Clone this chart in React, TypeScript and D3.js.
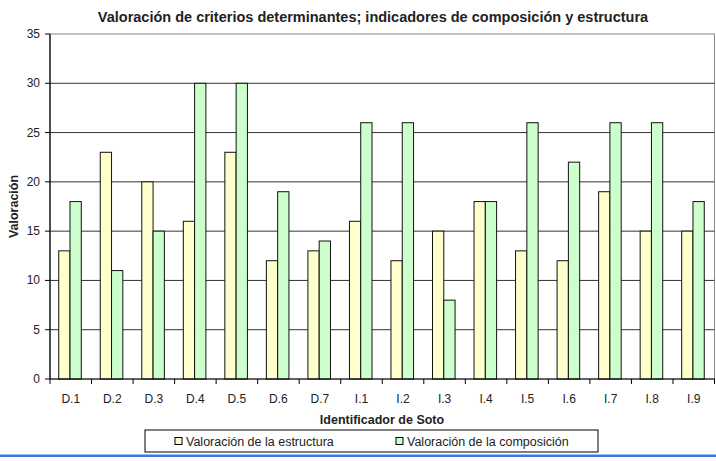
import React from "react";
import * as d3 from "d3";

const categories = ["D.1","D.2","D.3","D.4","D.5","D.6","D.7","I.1","I.2","I.3","I.4","I.5","I.6","I.7","I.8","I.9"];
const estructura = [13,23,20,16,23,12,13,16,12,15,18,13,12,19,15,15];
const composicion = [18,11,15,30,30,19,14,26,26,8,18,26,22,26,26,18];
const seriesNames = ["Valoración de la estructura", "Valoración de la composición"];
const seriesColors = ["#FFFFCC", "#CCFFCC"];
const yTicks = [0,5,10,15,20,25,30,35];

export default function App() {
  const W = 716, H = 461;
  const left = 50, right = 714.5, top = 34, bottom = 379;
  const x = d3.scaleBand<string>().domain(categories).range([left, right]).paddingInner(0).paddingOuter(0);
  const inner = d3.scaleBand<number>().domain([0,1]).range([0, x.bandwidth()]).paddingInner(0).paddingOuter(0.84).align(0.46);
  const y = d3.scaleLinear().domain([0,35]).range([bottom, top]);
  const font = "Arial, 'Liberation Sans', sans-serif";
  const series = [estructura, composicion];
  return (
    <svg width={W} height={H} style={{position:"absolute", left:0, top:0}} fontFamily={font}>
      <rect x={0} y={0} width={W} height={H} fill="#fff" />
      <text x={373} y={22} textAnchor="middle" fontSize={14.5} fontWeight="bold" fill="#222">
        Valoración de criterios determinantes; indicadores de composición y estructura
      </text>
      <rect x={left} y={top} width={right-left} height={bottom-top} fill="none" stroke="#888" strokeWidth={1} />
      {yTicks.filter(t => t>0 && t<35).map(t => (
        <line key={t} x1={left} x2={right} y1={y(t)} y2={y(t)} stroke="#333" strokeWidth={1} />
      ))}
      {categories.map((c, i) => series.map((s, k) => (
        <rect key={c+k} x={x(c)! + inner(k)!} y={y(s[i])} width={inner.bandwidth()} height={y(0)-y(s[i])}
          fill={seriesColors[k]} stroke="#111" strokeWidth={1} />
      )))}
      <line x1={left} x2={left} y1={top} y2={bottom} stroke="#000" strokeWidth={1.2} />
      <line x1={left} x2={right} y1={bottom} y2={bottom} stroke="#000" strokeWidth={1.2} />
      {yTicks.map(t => (
        <g key={t}>
          <line x1={left-5} x2={left} y1={y(t)} y2={y(t)} stroke="#000" />
          <text x={40} y={y(t)+4} textAnchor="end" fontSize={12} fill="#222">{t}</text>
        </g>
      ))}
      {categories.map((c) => (
        <g key={c}>
          <line x1={x(c)!} x2={x(c)!} y1={bottom} y2={bottom+5} stroke="#000" />
          <text x={x(c)! + x.bandwidth()/2} y={403} textAnchor="middle" fontSize={12} fill="#222">{c}</text>
        </g>
      ))}
      <line x1={right} x2={right} y1={bottom} y2={bottom+5} stroke="#000" />
      <text x={382} y={424} textAnchor="middle" fontSize={12.5} fontWeight="bold" fill="#222">Identificador de Soto</text>
      <text transform={`translate(18,${(top+bottom)/2}) rotate(-90)`} textAnchor="middle" fontSize={12.5} fontWeight="bold" fill="#222">Valoración</text>
      <rect x={145} y={430} width={453} height={22} fill="#fff" stroke="#000" strokeWidth={1} />
      {seriesNames.map((n, k) => {
        const lx = k === 0 ? 175 : 396;
        return (
          <g key={n}>
            <rect x={lx} y={437.5} width={7} height={7} fill={seriesColors[k]} stroke="#000" strokeWidth={1} />
            <text x={lx+11} y={445.5} fontSize={12.5} fill="#222">{n}</text>
          </g>
        );
      })}
      <rect x={0} y={454.5} width={W} height={2.5} fill="#3f74e6" />
    </svg>
  );
}
